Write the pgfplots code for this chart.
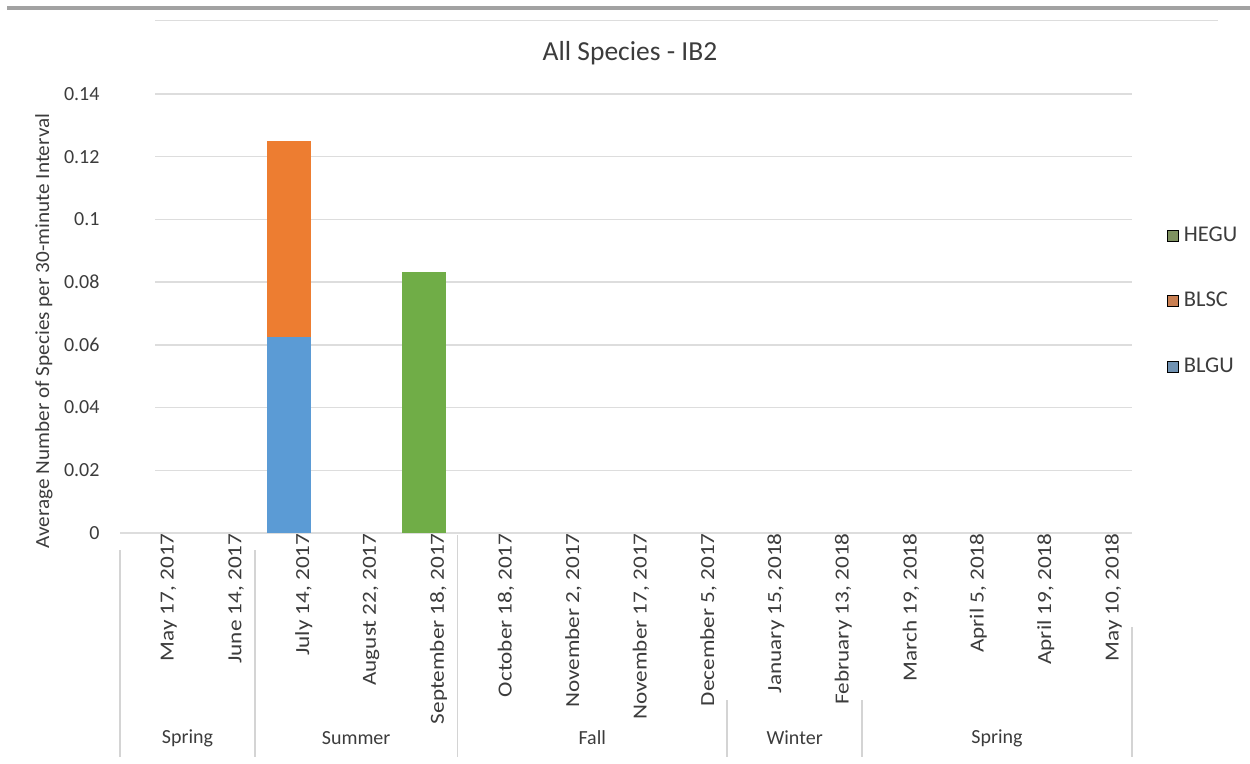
\documentclass[border=0pt]{standalone}
\usepackage{fontspec}
\setmainfont{Carlito}
\usepackage{graphicx}
\usepackage{pgfplots}
\usepackage{pgfplotstable}
\pgfplotsset{compat=1.18}

\definecolor{cBLGU}{HTML}{5B9BD5}
\definecolor{cBLSC}{HTML}{ED7D31}
\definecolor{cHEGU}{HTML}{70AD47}
\definecolor{lBLGU}{HTML}{7092B2}
\definecolor{lBLSC}{HTML}{C97F52}
\definecolor{lHEGU}{HTML}{7E9160}
\definecolor{gridc}{HTML}{DDDDDD}
\definecolor{sepc}{HTML}{D4D4D4}
\definecolor{txt}{HTML}{3C3C3C}
\definecolor{topbar}{HTML}{A2A2A2}

% average number of species per 30-minute interval, one row per survey
\pgfplotstableread{
idx BLGU   BLSC   HEGU
0   0      0      0
1   0      0      0
2   0.0625 0.0625 0
3   0      0      0
4   0      0      0.0833
5   0      0      0
6   0      0      0
7   0      0      0
8   0      0      0
9   0      0      0
10  0      0      0
11  0      0      0
12  0      0      0
13  0      0      0
14  0      0      0
}\surveys

\newcommand{\lab}{\fontsize{8}{9.6}\selectfont}
% vertical date labels are set slightly elongated
\newcommand{\dl}[1]{\scalebox{1.16}[1]{#1}}

\begin{document}
\begin{tikzpicture}
\path[use as bounding box] (0,0) rectangle (500pt,305.2pt);
\begin{scope}[x=0.4pt,y=-0.4pt,shift={(0pt,305.2pt)}]
  \fill[topbar] (7,6) rectangle (1250,10);
  \draw[gridc,line width=0.5pt] (155,20.5) -- (1218,20.5);
  \node[font=\fontsize{11}{13}\selectfont,text=txt] at (630,53) {All Species - IB2};
  \node[rotate=90,font=\lab,text=txt] at (44,331)
    {\scalebox{1.06}[1]{Average Number of Species per 30-minute Interval}};
  % horizontal grid lines every 0.02 (drawn first so the bars cover them)
  \foreach \gy in {470.29,407.57,344.86,282.14,219.43,156.71,94}
    \draw[gridc,line width=0.6pt] (155,\gy) -- (1132,\gy);
\end{scope}
\begin{axis}[
  at={(48pt,92pt)}, anchor=south west,
  scale only axis, width=404.8pt, height=175.6pt,
  ybar stacked, bar width=17.6pt,
  xmin=-0.5, xmax=14.5, ymin=0, ymax=0.14,
  axis x line*=bottom, axis y line*=left,
  x axis line style={draw=gridc, line width=0.6pt},
  y axis line style={draw=none},
  major tick length=0pt,
  xtick={0,...,14},
  xticklabels={{\dl{May 17, 2017}},{\dl{June 14, 2017}},{\dl{July 14, 2017}},
    {\dl{August 22, 2017}},{\dl{September 18, 2017}},{\dl{October 18, 2017}},
    {\dl{November 2, 2017}},{\dl{November 17, 2017}},{\dl{December 5, 2017}},
    {\dl{January 15, 2018}},{\dl{February 13, 2018}},{\dl{March 19, 2018}},
    {\dl{April 5, 2018}},{\dl{April 19, 2018}},{\dl{May 10, 2018}}},
  ytick={0,0.02,0.04,0.06,0.08,0.1,0.12,0.14},
  yticklabels={0,0.02,0.04,0.06,0.08,0.1,0.12,0.14},
  tick label style={font=\lab, text=txt},
  yticklabel style={anchor=east, inner sep=0pt, xshift=-8pt},
  xticklabel style={rotate=90, anchor=east, inner sep=0pt, yshift=-6pt},
  clip=false,
  legend style={draw=none, fill=none, at={(1.034,0.71)}, anchor=north west,
    font=\fontsize{9}{10.8}\selectfont, text=txt, row sep=14.8pt, inner sep=0pt},
  legend cell align=left,
  legend image code/.code={\fill[#1] (0pt,-2.2pt) rectangle (4.4pt,2.2pt);},
]
\addplot[fill=cBLGU, draw=none, forget plot] table[x=idx, y=BLGU] {\surveys};
\addplot[fill=cBLSC, draw=none, forget plot] table[x=idx, y=BLSC] {\surveys};
\addplot[fill=cHEGU, draw=none, forget plot] table[x=idx, y=HEGU] {\surveys};

\addlegendimage{fill=lHEGU}\addlegendentry{HEGU}
\addlegendimage{fill=lBLSC}\addlegendentry{BLSC}
\addlegendimage{fill=lBLGU}\addlegendentry{BLGU}

% season separators and season names below the dates
\draw[sepc, line width=0.6pt] ([yshift=-6.8pt]axis cs:-0.5,0) -- ([yshift=-89.6pt]axis cs:-0.5,0);
\draw[sepc, line width=0.6pt] ([yshift=-6.8pt]axis cs:1.5,0) -- ([yshift=-89.6pt]axis cs:1.5,0);
\draw[sepc, line width=0.6pt] ([yshift=-0.8pt]axis cs:4.5,0) -- ([yshift=-89.6pt]axis cs:4.5,0);
\draw[sepc, line width=0.6pt] ([yshift=-66.8pt]axis cs:8.5,0) -- ([yshift=-89.6pt]axis cs:8.5,0);
\draw[sepc, line width=0.6pt] ([yshift=-66.8pt]axis cs:10.5,0) -- ([yshift=-89.6pt]axis cs:10.5,0);
\draw[sepc, line width=0.6pt] ([yshift=-37.6pt]axis cs:14.5,0) -- ([yshift=-89.6pt]axis cs:14.5,0);
\node[font=\lab, text=txt] at ([yshift=-82pt]axis cs:0.5,0) {Spring};
\node[font=\lab, text=txt] at ([yshift=-82pt]axis cs:3,0) {Summer};
\node[font=\lab, text=txt] at ([yshift=-82pt]axis cs:6.5,0) {Fall};
\node[font=\lab, text=txt] at ([yshift=-82pt]axis cs:9.5,0) {Winter};
\node[font=\lab, text=txt] at ([yshift=-82pt]axis cs:12.5,0) {Spring};
\end{axis}
\end{tikzpicture}
\end{document}
